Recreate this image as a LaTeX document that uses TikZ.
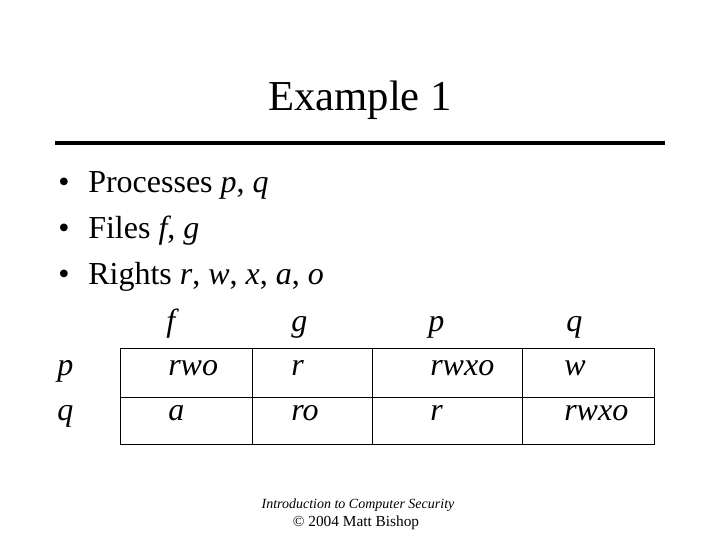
\documentclass[tikz,border=0pt]{standalone}
\usepackage{fontspec}
\setmainfont{Liberation Serif}
\begin{document}
\begin{tikzpicture}[x=0.75pt, y=-0.75pt,
  every node/.style={inner sep=0pt, font=\fontsize{24}{28}\selectfont},
  cell/.style={anchor=base west}]
\useasboundingbox (0,0) rectangle (720,540);
\node (title) at (360,110)[anchor=base, font=\fontsize{32}{38}\selectfont]{Example 1};
\draw[line width=3pt](55,143)--(665,143);
% bullet list
\foreach \n/\y/\t in {proc/192/{Processes \textit{p}, \textit{q}}, file/238/{Files \textit{f}, \textit{g}}, right/284/{Rights \textit{r}, \textit{w}, \textit{x}, \textit{a}, \textit{o}}}
{
    \node (b\n) at (64,\y)[anchor=base]{\textbullet};
    \node (\n) at (88,\y)[cell]{\t};
}
% access control matrix
\draw[line width=.6pt](120,348) rectangle (654,444);
\draw[line width=.6pt](120,397)--(654,397);
\foreach \x in {252,372,522}
{
    \draw[line width=.6pt](\x,348)--(\x,444);
}
\foreach \n/\x in {f/166, g/291, p/428, q/566}
{
    \node (h\n) at (\x,331)[cell]{\textit{\n}};
}
\foreach \r/\y/\a/\b/\c/\d in {p/375/rwo/r/rwxo/w, q/420/a/ro/r/rwxo}
{
    \node (l\r) at (57,\y)[cell]{\textit{\r}};
    \node (\r f) at (168,\y)[cell]{\textit{\a}};
    \node (\r g) at (291,\y)[cell]{\textit{\b}};
    \node (\r p) at (430,\y)[cell]{\textit{\c}};
    \node (\r q) at (564,\y)[cell]{\textit{\d}};
}
\node (foot) at (358,508)[anchor=base, font=\fontsize{10.5}{12}\selectfont\itshape]{Introduction to Computer Security};
\node (copy) at (356,526)[anchor=base, font=\fontsize{11.5}{13}\selectfont]{\textcopyright{} 2004 Matt Bishop};
\end{tikzpicture}
\end{document}
